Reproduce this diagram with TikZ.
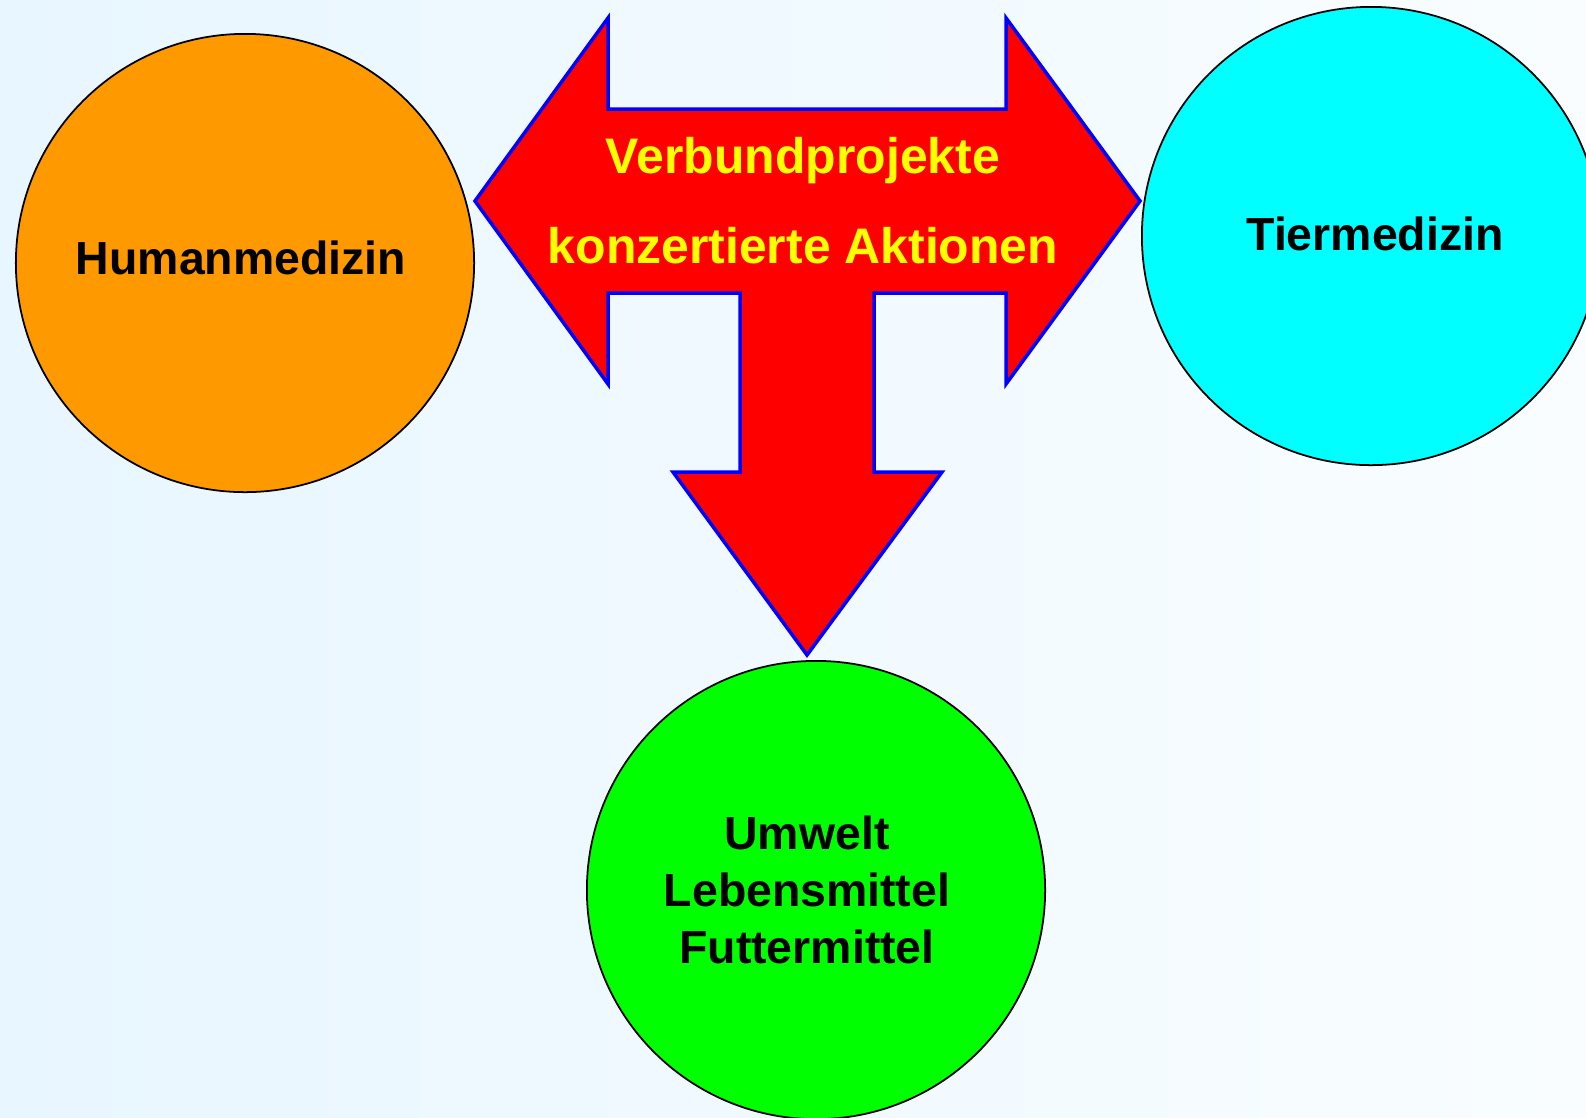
\documentclass[tikz,border=0pt]{standalone}
\usepackage{fontspec}
\setmainfont{Liberation Sans}
\usetikzlibrary{positioning, shapes.geometric}
\definecolor{bgleft}{RGB}{232, 246, 255}
\definecolor{bgright}{RGB}{249, 253, 255}
\definecolor{myorange}{RGB}{255, 153, 0}
\definecolor{mycyan}{RGB}{0, 255, 255}
\definecolor{mygreen}{RGB}{0, 255, 0}
\definecolor{myred}{RGB}{255, 0, 0}
\definecolor{myblue}{RGB}{0, 0, 255}
\definecolor{myyellow}{RGB}{255, 255, 0}

\begin{document}
\begin{tikzpicture}[
    x=0.01cm, y=-0.01cm,
    topic/.style={circle, draw=black, line width=0.5pt, minimum size=4.58cm, inner sep=0pt},
    topictext/.style={align=center, font=\fontsize{13.2}{16.2}\selectfont\bfseries},
    bigarrow/.style={fill=myred, draw=myblue, line width=1pt, line join=miter},
    arrowtext/.style={text=myyellow, anchor=base, font=\fontsize{14.2}{17}\selectfont\bfseries}
]

% Background
\useasboundingbox (0,0) rectangle (1586,1117);
\clip (0,0) rectangle (1586,1117);
\shade[left color=bgleft, right color=bgright] (0,0) rectangle (1586,1117);

% Topics
\node[topic, fill=myorange, label={[topictext, xshift=-0.04cm, yshift=0.05cm]center:Humanmedizin}] (human) at (245,263) {};
\node[topic, fill=mycyan, label={[topictext, xshift=0.04cm, yshift=0.02cm]center:Tiermedizin}] (tier) at (1371,236) {};
\node[topic, fill=mygreen, label={[topictext, xshift=-0.09cm]center:Umwelt\\Lebensmittel\\Futtermittel}] (umwelt) at (816,890) {};

% Three-way arrow
\draw[bigarrow] (475,201) -- (608,18) -- (608,109) -- (1006,109) -- (1006,18)
    -- (1140,201) -- (1006,384) -- (1006,293) -- (874,293) -- (874,472)
    -- (942,472) -- (807,655) -- (673,472) -- (740,472) -- (740,293)
    -- (608,293) -- (608,384) -- cycle;

\node[arrowtext] (verbund) at (803,173) {Verbundprojekte};
\node[arrowtext] (aktionen) at (803,263) {konzertierte Aktionen};

\end{tikzpicture}
\end{document}
